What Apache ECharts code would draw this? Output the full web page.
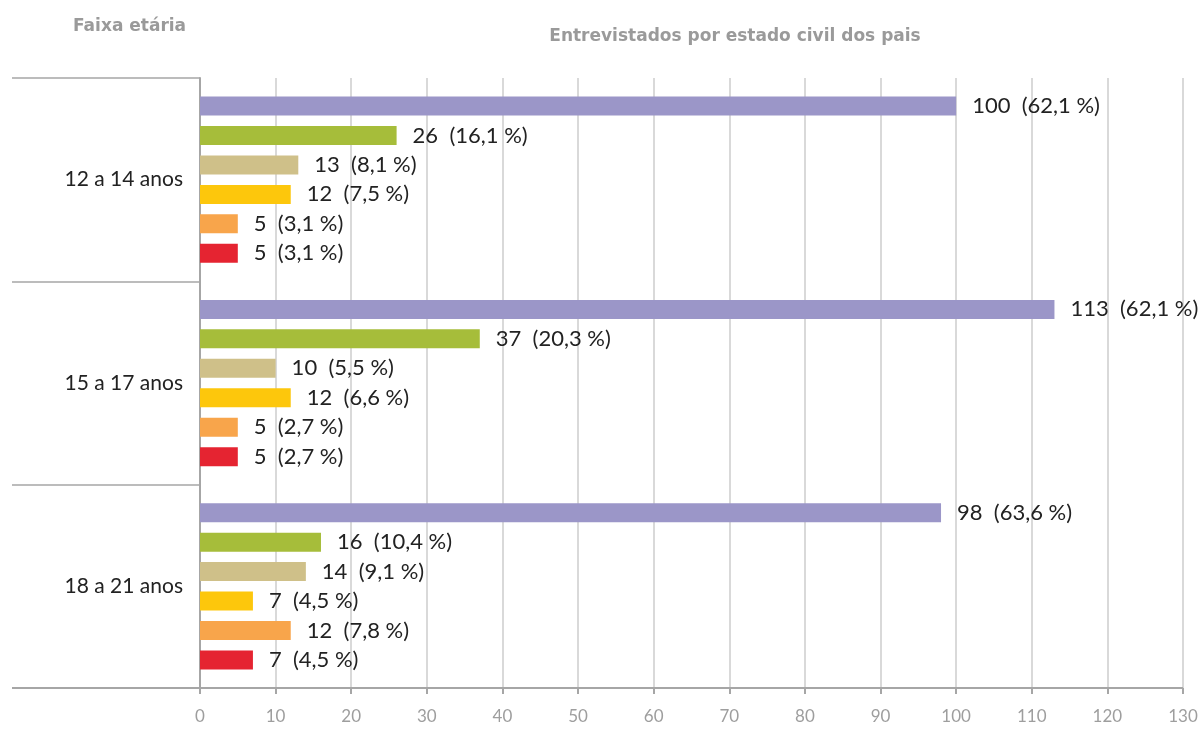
<!DOCTYPE html>
<html>
<head>
<meta charset="utf-8">
<script src="https://cdn.jsdelivr.net/npm/echarts@6/dist/echarts.min.js"></script>
<style>
html, body { margin: 0; padding: 0; background: #fff; }
#chart { width: 1203px; height: 730px; }
</style>
</head>
<body>
<div id="chart"></div>
<script>
// faixas etárias
const categories = ['12 a 14 anos', '15 a 17 anos', '18 a 21 anos']
const ticks = [0, 10, 20, 30, 40, 50, 60, 70, 80, 90, 100, 110, 120, 130]

// valores por série (mesma ordem das categorias)
const s1 = [100, 113, 98]
const s2 = [26, 37, 16]
const s3 = [13, 10, 14]
const s4 = [12, 12, 7]
const s5 = [5, 5, 12]
const s6 = [5, 5, 7]

// percentuais exibidos nos rótulos
const p1 = ['62,1', '62,1', '63,6']
const p2 = ['16,1', '20,3', '10,4']
const p3 = ['8,1', '5,5', '9,1']
const p4 = ['7,5', '6,6', '4,5']
const p5 = ['3,1', '2,7', '7,8']
const p6 = ['3,1', '2,7', '4,5']

const colors = ['#9b96c8', '#a6bd3a', '#cfc089', '#fdc70c', '#f8a54b', '#e52431']
const font = 'Lato, "Open Sans", sans-serif'
const titleFont = '"DejaVu Sans", sans-serif'

const seriesData = [s1, s2, s3, s4, s5, s6]
const pctData = [p1, p2, p3, p4, p5, p6]

const chart = echarts.init(document.getElementById('chart'), null, { renderer: 'canvas' })

const option = {
  backgroundColor: '#fff',
  animation: false,
  textStyle: { fontFamily: font },
  title: [
    {
      text: 'Faixa etária',
      left: 68, top: 13,
      textStyle: { fontFamily: titleFont, fontSize: 17, fontWeight: 'bold', color: '#9a9a9a' }
    },
    {
      text: 'Entrevistados por estado civil dos pais',
      left: 730, top: 23, textAlign: 'center',
      textStyle: { fontFamily: titleFont, fontSize: 17, fontWeight: 'bold', color: '#9a9a9a' }
    }
  ],
  grid: { left: 200, right: 20, top: 78, bottom: 42, containLabel: false },
  xAxis: {
    type: 'value',
    min: ticks[0], max: ticks[ticks.length - 1], interval: 10,
    axisLine: { show: false },
    axisTick: { show: true, length: 6, lineStyle: { color: '#a6a6a6', width: 2 } },
    axisLabel: { fontFamily: font, fontSize: 17, color: '#9e9e9e', margin: 20 },
    splitLine: { show: true, lineStyle: { color: '#d9d9d9', width: 2 } }
  },
  yAxis: {
    type: 'category',
    data: categories,
    inverse: true,
    axisLine: { show: true, lineStyle: { color: '#a6a6a6', width: 2 } },
    axisTick: { show: true, interval: 0, length: 188, lineStyle: { color: '#a6a6a6', width: 1.5 } },
    axisLabel: { fontFamily: font, fontSize: 21, color: '#222', margin: 17 }
  },
  series: seriesData.map((d, i) => ({
    type: 'bar',
    name: 'Série ' + (i + 1),
    data: d,
    barWidth: 19,
    barGap: '55%',
    itemStyle: { color: colors[i] },
    label: {
      show: true,
      position: 'right',
      distance: 16,
      fontFamily: font,
      fontSize: 22,
      color: '#222',
      formatter: p => p.value + '  (' + pctData[i][p.dataIndex] + ' %)'
    }
  }))
}

chart.setOption(option)

// linha inferior prolongada até a esquerda (eixo x)
chart.setOption({
  graphic: [{
    type: 'line',
    shape: { x1: 12, y1: 688, x2: 1183, y2: 688 },
    style: { stroke: '#a6a6a6', lineWidth: 2 },
    z: 10
  }]
})
</script>
</body>
</html>
